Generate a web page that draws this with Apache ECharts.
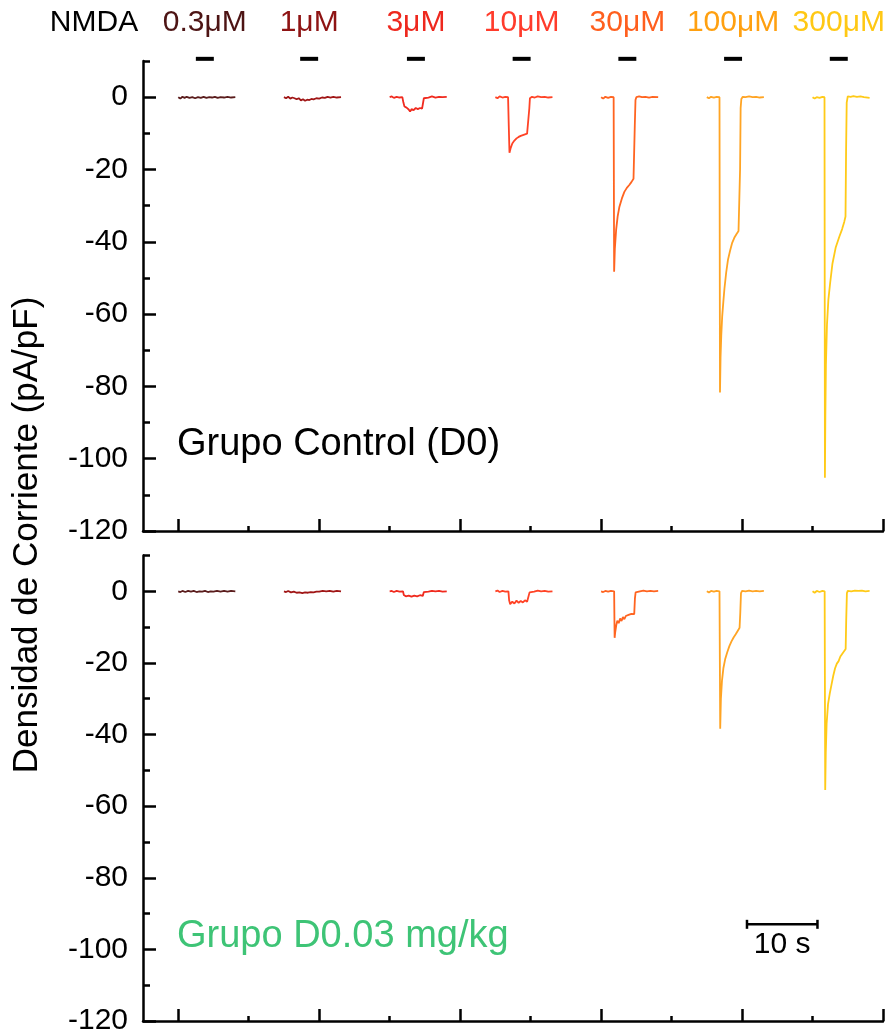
<!DOCTYPE html>
<html>
<head>
<meta charset="utf-8">
<script src="https://cdn.jsdelivr.net/npm/echarts@6/dist/echarts.min.js"></script>
<style>
html,body{margin:0;padding:0;background:#fff;}
#chart{width:888px;height:1036px;}
</style>
</head>
<body>
<div id="chart"></div>
<script>
// ---------- DATA ----------
const concLabels = ['0.3μM','1μM','3μM','10μM','30μM','100μM','300μM'];
const labelColors = ['#4d1414','#8e1313','#ee281e','#ff3b2b','#ff5f1e','#ffa010','#ffc814'];
const traceColors = ['#5a1c1c','#a01616','#f02a1e','#ff4326','#ff6420','#ffa424','#ffca18'];
const traceStart = [5, 20, 35, 50, 65, 80, 95];     // s
const stimOn = [2.5, 2.3, 2.45, 2.45, 2.45, 2.45, 2.45]; // s relative to trace start
const stimOff = [5.05, 4.85, 5.0, 5.0, 5.0, 5.0, 5.0];
const yMajor = [-120, -100, -80, -60, -40, -20, 0];
const yMinor = [-110, -90, -70, -50, -30, -10, 10];
const xMajor = [5, 25, 45, 65, 85, 105];
const xMinor = [15, 35, 55, 75, 95];
const scaleBar = [85.7, 95.7, -93]; // start s, end s, current level

// Control group (D0): [time relative to trace start (s), current density (pA/pF)]
const ctrl03 = [[0,0],[0.3,-0.4],[0.6,0.1],[0.9,-0.2],[1.2,0.1],[1.6,-0.2],[2.0,0.0],[2.4,-0.3],[2.8,0.0],[3.2,-0.2],[3.6,0.1],[4.0,-0.2],[4.4,0.0],[4.8,-0.1],[5.2,0.1],[5.6,-0.2],[6.0,0.0],[6.5,-0.1],[7.0,0.1],[7.5,-0.1],[8.1,0.0]];
const ctrl1 = [[0,0],[0.3,-0.3],[0.6,0.1],[0.9,-0.4],[1.2,-0.1],[1.5,-0.3],[1.8,-0.6],[2.1,-0.3],[2.4,-0.9],[2.7,-0.6],[3.0,-1.0],[3.3,-0.7],[3.6,-0.8],[3.9,-0.5],[4.2,-0.6],[4.6,-0.3],[5.0,-0.4],[5.4,-0.1],[5.8,-0.2],[6.2,0.1],[6.6,-0.1],[7.0,0.1],[7.5,-0.1],[8.1,0.0]];
const ctrl3 = [[0,0],[0.3,0.2],[0.6,-0.2],[1.0,0.1],[1.4,-0.1],[1.8,0.0],[1.95,-1.5],[2.1,-2.6],[2.4,-2.9],[2.7,-3.4],[2.9,-4.0],[3.1,-3.3],[3.4,-3.6],[3.7,-3.0],[4.0,-3.3],[4.3,-3.0],[4.6,-3.2],[4.75,-2.8],[4.85,-0.3],[5.1,0.1],[5.5,-0.1],[6.0,0.2],[6.5,-0.1],[7.0,0.1],[7.5,0.0],[8.1,0.1]];
const ctrl10 = [[0,0],[0.3,-0.3],[0.6,0.2],[1.0,-0.1],[1.4,0.1],[1.8,0.0],[1.9,-8],[2.0,-15.4],[2.15,-14.2],[2.4,-12.8],[2.7,-12.0],[3.0,-11.4],[3.3,-11.0],[3.6,-10.7],[3.9,-10.5],[4.2,-10.3],[4.5,-10.1],[4.75,-9.8],[4.82,-3],[4.9,-0.3],[5.2,0.1],[5.6,-0.1],[6.0,0.2],[6.5,0.0],[7.0,0.1],[7.5,-0.1],[8.1,0.0]];
const ctrl30 = [[0,0],[0.3,-0.4],[0.6,0.1],[1.0,-0.2],[1.4,0.1],[1.78,0.0],[1.85,-48.3],[1.95,-42],[2.13,-36.8],[2.35,-33],[2.6,-30.3],[2.95,-28],[3.3,-26.2],[3.65,-25.1],[4.0,-24.3],[4.3,-23.5],[4.6,-22.6],[4.7,-22.3],[4.78,-8],[4.88,-0.8],[5.0,0.0],[5.4,0.2],[5.8,0.0],[6.3,0.1],[6.8,-0.1],[7.3,0.1],[8.1,0.0]];
const ctrl100 = [[0,0],[0.3,-0.3],[0.6,0.1],[1.0,-0.1],[1.4,0.1],[1.8,0.0],[1.87,-81.7],[1.95,-72],[2.05,-66],[2.18,-60.7],[2.35,-56.5],[2.5,-53],[2.75,-48.5],[3.0,-45],[3.3,-42.5],[3.6,-40.3],[3.9,-38.9],[4.2,-37.9],[4.5,-37.0],[4.65,-36.5],[4.72,-20],[4.8,-3],[4.9,-0.5],[5.1,0.1],[5.5,0.0],[6.0,0.2],[6.5,0.0],[7.0,0.1],[7.5,-0.1],[8.1,0.0]];
const ctrl300 = [[0,0],[0.3,-0.4],[0.6,0.0],[1.0,-0.2],[1.4,0.1],[1.7,0.0],[1.76,-105.3],[1.82,-88],[1.9,-74],[2.05,-63],[2.25,-56],[2.5,-51.4],[2.83,-46],[3.3,-41.5],[3.8,-38.6],[4.2,-36.5],[4.5,-34.5],[4.68,-33],[4.76,-15],[4.85,-1.5],[5.0,0.2],[5.4,0.1],[5.8,0.3],[6.3,0.1],[6.8,0.2],[7.3,0.0],[8.1,-0.2]];

// Group D0.03 mg/kg
const dose03 = [[0,0],[0.3,-0.2],[0.6,0.1],[1.0,-0.2],[1.4,0.1],[1.8,-0.1],[2.2,0.1],[2.6,-0.2],[3.0,0.0],[3.4,-0.1],[3.8,0.1],[4.2,-0.2],[4.6,0.0],[5.0,-0.1],[5.5,0.1],[6.0,-0.1],[6.5,0.1],[7.0,-0.1],[7.5,0.1],[8.1,0.0]];
const dose1 = [[0,0],[0.3,-0.2],[0.6,0.1],[1.0,-0.3],[1.4,-0.1],[1.8,-0.4],[2.2,-0.3],[2.6,-0.5],[3.0,-0.3],[3.4,-0.4],[3.8,-0.2],[4.2,-0.3],[4.6,-0.1],[5.0,-0.1],[5.5,0.1],[6.0,0.0],[6.5,0.1],[7.0,-0.1],[7.5,0.1],[8.1,0.0]];
const dose3 = [[0,0],[0.3,0.1],[0.6,-0.2],[1.0,0.1],[1.4,-0.1],[1.9,0.0],[2.0,-1.0],[2.3,-1.4],[2.7,-1.2],[3.1,-1.5],[3.5,-1.2],[3.9,-1.4],[4.3,-1.1],[4.7,-1.3],[4.85,-0.2],[5.1,0.1],[5.5,-0.1],[6.0,0.1],[6.5,0.0],[7.0,0.1],[7.5,-0.1],[8.1,0.0]];
const dose10 = [[0,0],[0.3,0.2],[0.6,-0.2],[1.0,0.1],[1.4,-0.1],[1.85,0.0],[1.95,-2.5],[2.1,-3.6],[2.4,-2.9],[2.7,-3.4],[3.0,-2.6],[3.3,-3.2],[3.6,-2.7],[3.9,-3.1],[4.2,-2.5],[4.5,-2.9],[4.75,-2.6],[4.85,-0.3],[5.1,0.1],[5.5,-0.1],[6.0,0.2],[6.5,0.0],[7.0,0.1],[7.5,-0.1],[8.1,0.0]];
const dose30 = [[0,0],[0.3,-0.2],[0.6,0.1],[1.0,-0.1],[1.4,0.1],[1.85,0.0],[1.92,-13],[2.0,-11.5],[2.15,-9.5],[2.3,-8.2],[2.5,-8.9],[2.7,-7.6],[2.9,-8.3],[3.1,-7.2],[3.3,-7.8],[3.5,-6.9],[3.7,-7.4],[3.9,-6.6],[4.1,-7.1],[4.3,-6.3],[4.5,-6.8],[4.7,-6.4],[4.8,-2],[4.9,-0.3],[5.1,0.1],[5.5,0.0],[6.0,0.2],[6.5,0.0],[7.0,0.1],[7.5,0.0],[8.1,0.1]];
const dose100 = [[0,0],[0.3,-0.3],[0.6,0.1],[1.0,-0.1],[1.4,0.1],[1.8,0.0],[1.9,-38.4],[2.0,-30],[2.15,-25],[2.35,-21.5],[2.6,-19],[2.9,-17],[3.2,-15.3],[3.5,-14],[3.8,-12.9],[4.1,-12],[4.4,-11],[4.65,-10.2],[4.75,-6],[4.85,-0.5],[5.0,0.1],[5.5,0.0],[6.0,0.2],[6.5,0.0],[7.0,0.1],[7.5,0.0],[8.1,0.1]];
const dose300 = [[0,0],[0.3,-0.4],[0.6,0.1],[1.0,-0.2],[1.4,0.1],[1.72,0.0],[1.8,-55.5],[1.88,-45],[2.0,-37],[2.2,-31.5],[2.45,-28.5],[2.7,-26],[2.95,-23.5],[3.2,-21.5],[3.45,-20.2],[3.7,-19.5],[3.95,-18.2],[4.2,-17.5],[4.45,-16.8],[4.7,-16.1],[4.78,-8],[4.88,-0.5],[5.0,0.1],[5.5,0.0],[6.0,0.2],[6.5,0.1],[7.0,0.2],[7.5,0.0],[8.1,0.1]];

const ctrlTraces = [ctrl03, ctrl1, ctrl3, ctrl10, ctrl30, ctrl100, ctrl300];
const doseTraces = [dose03, dose1, dose3, dose10, dose30, dose100, dose300];

// ---------- CHART ----------
const FONT = '"Liberation Sans", Arial, sans-serif';
const chart = echarts.init(document.getElementById('chart'), null, {renderer: 'canvas'});

const grids = [
  {left: 143, top: 61, width: 740, height: 470},
  {left: 143, top: 555.5, width: 740, height: 470}
];

const xAxes = [], yAxes = [];
grids.forEach((g, gi) => {
  xAxes.push({
    type: 'value', gridIndex: gi, min: 0, max: 105,
    axisLine: {show: true, onZero: false, lineStyle: {color: '#000', width: 2.5}},
    axisTick: {show: true, inside: true, length: 12, customValues: xMajor, lineStyle: {color: '#000', width: 2.5}},
    axisLabel: {show: false}, splitLine: {show: false}
  });
  xAxes.push({
    type: 'value', gridIndex: gi, min: 0, max: 105, position: 'bottom', offset: 0,
    axisLine: {show: false, onZero: false},
    axisTick: {show: true, inside: true, length: 5, customValues: xMinor, lineStyle: {color: '#000', width: 2.5}},
    axisLabel: {show: false}, splitLine: {show: false}
  });
  yAxes.push({
    type: 'value', gridIndex: gi, min: -120, max: 10, position: 'left', offset: 0,
    axisLine: {show: true, onZero: false, lineStyle: {color: '#000', width: 2.5}},
    axisTick: {show: true, inside: true, length: 13, customValues: yMajor, lineStyle: {color: '#000', width: 2.5}},
    axisLabel: {show: true, customValues: yMajor, margin: 15, color: '#000', fontSize: 30, fontFamily: FONT},
    splitLine: {show: false}
  });
  yAxes.push({
    type: 'value', gridIndex: gi, min: -120, max: 10, position: 'left', offset: 0,
    axisLine: {show: false, onZero: false},
    axisTick: {show: true, inside: true, length: 7, customValues: yMinor, lineStyle: {color: '#000', width: 2.5}},
    axisLabel: {show: false}, splitLine: {show: false}
  });
});

const series = [];
function addTraces(traces, gi) {
  traces.forEach((tr, i) => {
    series.push({
      type: 'line', xAxisIndex: gi * 2, yAxisIndex: gi * 2,
      data: tr.map(p => [traceStart[i] + p[0], p[1]]),
      showSymbol: false, symbol: 'none', smooth: false,
      lineStyle: {color: traceColors[i], width: 1.8},
      silent: true, clip: false, z: 3
    });
  });
}
addTraces(ctrlTraces, 0);
addTraces(doseTraces, 1);

// Stimulus bars + concentration labels
series.push({
  type: 'custom', xAxisIndex: 0, yAxisIndex: 0, clip: false, silent: true,
  data: traceStart.map((s, i) => [s + stimOn[i], s + stimOff[i], i]),
  renderItem: function (params, api) {
    const i = api.value(2);
    const p1 = api.coord([api.value(0), 10.6]);
    const p2 = api.coord([api.value(1), 10.6]);
    return {
      type: 'group',
      children: [
        {type: 'rect', shape: {x: p1[0], y: p1[1] - 2, width: p2[0] - p1[0], height: 4}, style: {fill: '#000'}},
        {type: 'text', style: {text: concLabels[i], x: (p1[0] + p2[0]) / 2, y: p1[1] - 36, align: 'center', verticalAlign: 'middle',
          fill: labelColors[i], font: '30px ' + FONT}}
      ]
    };
  }
});

// Scale bar
series.push({
  type: 'custom', xAxisIndex: 2, yAxisIndex: 2, clip: false, silent: true,
  data: [scaleBar],
  renderItem: function (params, api) {
    const p1 = api.coord([api.value(0), api.value(2)]);
    const p2 = api.coord([api.value(1), api.value(2)]);
    const st = {stroke: '#000', lineWidth: 2.5};
    return {
      type: 'group',
      children: [
        {type: 'line', shape: {x1: p1[0], y1: p1[1], x2: p2[0], y2: p2[1]}, style: st},
        {type: 'line', shape: {x1: p1[0], y1: p1[1] - 4.5, x2: p1[0], y2: p1[1] + 4.5}, style: st},
        {type: 'line', shape: {x1: p2[0], y1: p2[1] - 4.5, x2: p2[0], y2: p2[1] + 4.5}, style: st},
        {type: 'text', style: {text: '10 s', x: (p1[0] + p2[0]) / 2, y: p1[1] + 20, align: 'center', verticalAlign: 'middle',
          fill: '#000', font: '30px ' + FONT}}
      ]
    };
  }
});

chart.setOption({
  backgroundColor: '#fff',
  animation: false,
  grid: grids,
  xAxis: xAxes,
  yAxis: yAxes,
  series: series,
  graphic: [
    {type: 'text', x: 94, y: 23, style: {text: 'NMDA', fill: '#000', font: '30px ' + FONT, align: 'center', verticalAlign: 'middle'}},
    {type: 'text', x: 177, y: 445, style: {text: 'Grupo Control (D0)', fill: '#000', font: '38px ' + FONT, verticalAlign: 'middle'}},
    {type: 'text', x: 177, y: 937, style: {text: 'Grupo D0.03 mg/kg', fill: '#3ec476', font: '38px ' + FONT, verticalAlign: 'middle'}},
    {type: 'text', x: 27, y: 535, rotation: Math.PI / 2,
      style: {text: 'Densidad de Corriente (pA/pF)', fill: '#000', font: '35px ' + FONT, align: 'center', verticalAlign: 'middle'}}
  ]
});
</script>
</body>
</html>
